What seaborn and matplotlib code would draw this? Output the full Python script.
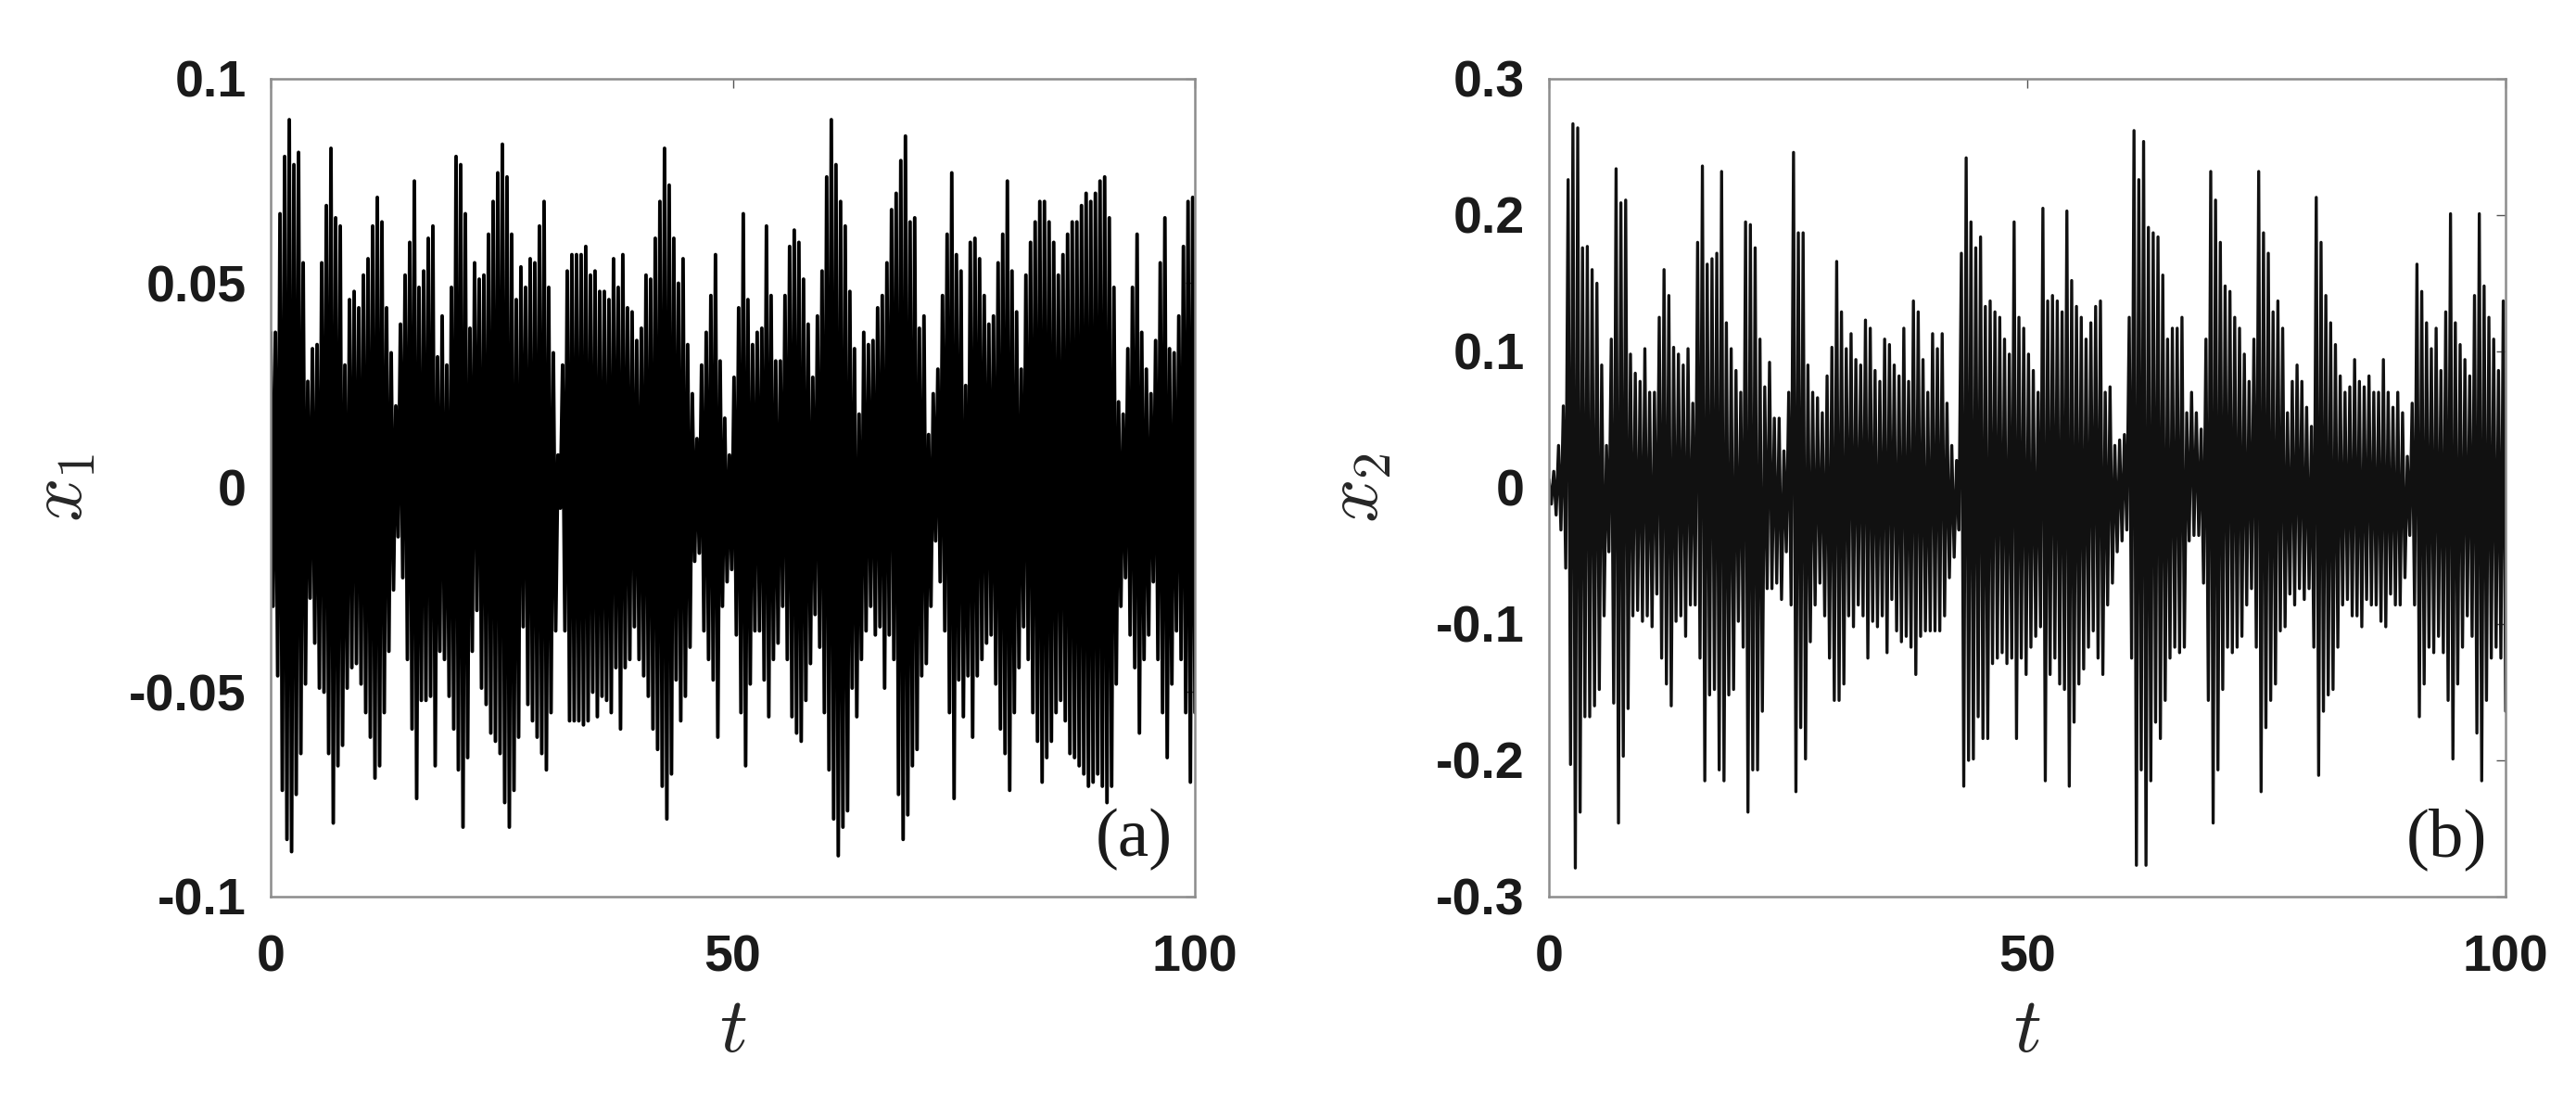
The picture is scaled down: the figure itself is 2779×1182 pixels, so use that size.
import numpy as np
import pandas as pd
import matplotlib
matplotlib.use("Agg")
import matplotlib.pyplot as plt
import seaborn as sns

# ---- data: upper / lower envelope tips, every 0.5 time unit ----
x1_upper = [
    0.038, 0.038, 0.067, 0.081, 0.090, 0.079, 0.082, 0.055, 0.026, 0.034,
    0.035, 0.055, 0.069, 0.083, 0.066, 0.064, 0.030, 0.046, 0.048, 0.044,
    0.052, 0.056, 0.064, 0.071, 0.065, 0.044, 0.033, 0.020, 0.040, 0.052,
    0.060, 0.075, 0.049, 0.053, 0.061, 0.064, 0.032, 0.042, 0.030, 0.049,
    0.081, 0.079, 0.067, 0.039, 0.055, 0.051, 0.052, 0.062, 0.070, 0.077,
    0.084, 0.076, 0.062, 0.046, 0.054, 0.049, 0.056, 0.055, 0.064, 0.070,
    0.049, 0.033, 0.008, 0.030, 0.053, 0.057, 0.057, 0.057,
    0.059, 0.052, 0.053, 0.048, 0.048, 0.046, 0.056, 0.049, 0.057, 0.044,
    0.043, 0.036, 0.039, 0.052, 0.051, 0.061, 0.070, 0.083, 0.074, 0.061,
    0.050, 0.056, 0.035, 0.023, 0.012, 0.030, 0.038, 0.047, 0.057, 0.031,
    0.017, 0.008, 0.027, 0.044, 0.067, 0.046, 0.035, 0.038, 0.039, 0.064,
    0.047, 0.031, 0.031, 0.047, 0.059, 0.063, 0.060, 0.051, 0.040, 0.027,
    0.042, 0.053, 0.076, 0.090, 0.079, 0.070, 0.064, 0.048, 0.034, 0.018,
    0.038, 0.035, 0.036, 0.044, 0.047, 0.055, 0.068,
    0.072, 0.080, 0.086, 0.065, 0.066, 0.039, 0.042, 0.013, 0.023, 0.029,
    0.047, 0.062, 0.077, 0.057, 0.053, 0.025, 0.060, 0.061, 0.056, 0.047,
    0.040, 0.042, 0.055, 0.062, 0.075, 0.053, 0.043, 0.029, 0.052, 0.060,
    0.065, 0.070, 0.070, 0.065, 0.060, 0.052, 0.057, 0.062, 0.065, 0.065,
    0.069, 0.072, 0.070, 0.072, 0.075, 0.076, 0.066, 0.049, 0.021, 0.018,
    0.034, 0.049, 0.062, 0.038, 0.029, 0.023, 0.036, 0.055, 0.066, 0.034,
    0.033, 0.042, 0.059, 0.070, 0.071,
]
x1_lower = [
    -0.029, -0.046, -0.074, -0.086, -0.089, -0.075, -0.065, -0.048, -0.027, -0.038,
    -0.049, -0.050, -0.065, -0.082, -0.068, -0.063, -0.049, -0.044, -0.043, -0.048,
    -0.055, -0.061, -0.071, -0.068, -0.055, -0.040, -0.025, -0.012, -0.022, -0.042,
    -0.059, -0.076, -0.052, -0.052, -0.051, -0.068, -0.040, -0.042, -0.051, -0.059,
    -0.069, -0.083, -0.066, -0.040, -0.030, -0.049, -0.053, -0.060, -0.062, -0.065,
    -0.077, -0.083, -0.074, -0.061, -0.034, -0.053, -0.057, -0.061, -0.065, -0.069,
    -0.055, -0.035, -0.005, -0.035, -0.057, -0.057, -0.057, -0.058,
    -0.057, -0.050, -0.056, -0.051, -0.052, -0.055, -0.044, -0.059, -0.044, -0.042,
    -0.034, -0.042, -0.046, -0.051, -0.059, -0.064, -0.073, -0.081, -0.070, -0.047,
    -0.057, -0.051, -0.039, -0.018, -0.016, -0.035, -0.042, -0.047, -0.061, -0.029,
    -0.023, -0.020, -0.036, -0.055, -0.068, -0.048, -0.035, -0.035, -0.047, -0.056,
    -0.042, -0.038, -0.029, -0.042, -0.056, -0.060, -0.062, -0.052, -0.043, -0.031,
    -0.039, -0.055, -0.069, -0.081, -0.090, -0.083, -0.079, -0.049, -0.056, -0.042,
    -0.035, -0.029, -0.036, -0.034, -0.049, -0.036, -0.042,
    -0.075, -0.086, -0.080, -0.068, -0.064, -0.046, -0.043, -0.029, -0.013, -0.023,
    -0.035, -0.055, -0.076, -0.047, -0.056, -0.046, -0.061, -0.046, -0.042, -0.038,
    -0.036, -0.048, -0.059, -0.065, -0.074, -0.055, -0.044, -0.034, -0.042, -0.055,
    -0.062, -0.072, -0.066, -0.062, -0.055, -0.052, -0.057, -0.065, -0.066, -0.068,
    -0.070, -0.073, -0.072, -0.070, -0.073, -0.077, -0.073, -0.048, -0.029, -0.022,
    -0.036, -0.044, -0.060, -0.042, -0.036, -0.023, -0.042, -0.055, -0.066, -0.048,
    -0.035, -0.042, -0.055, -0.072, -0.055,
]
x2_upper = [
    0.006, 0.012, 0.031, 0.060, 0.226, 0.267, 0.264, 0.176, 0.177, 0.160,
    0.150, 0.090, 0.031, 0.109, 0.234, 0.209, 0.211, 0.098, 0.084, 0.078,
    0.102, 0.070, 0.070, 0.125, 0.160, 0.141, 0.103, 0.098, 0.090, 0.102,
    0.062, 0.180, 0.236, 0.164, 0.168, 0.172, 0.232, 0.121, 0.102, 0.086,
    0.070, 0.195, 0.193, 0.176, 0.109, 0.074, 0.092, 0.051, 0.051, 0.027,
    0.070, 0.246, 0.187, 0.187, 0.090, 0.070, 0.066, 0.055, 0.082, 0.103,
    0.166, 0.129, 0.102, 0.113, 0.094, 0.090, 0.123,
    0.117, 0.086, 0.078, 0.109, 0.105, 0.090, 0.082, 0.117, 0.078, 0.137,
    0.129, 0.094, 0.070, 0.113, 0.102, 0.113, 0.062, 0.031, 0.020, 0.172,
    0.242, 0.195, 0.176, 0.184, 0.133, 0.137, 0.129, 0.125, 0.109, 0.098,
    0.195, 0.125, 0.117, 0.098, 0.086, 0.070, 0.205, 0.137, 0.141, 0.137,
    0.129, 0.203, 0.152, 0.133, 0.125, 0.109, 0.121, 0.133, 0.137, 0.070,
    0.074, 0.031, 0.035, 0.039, 0.125, 0.262, 0.226, 0.254, 0.191, 0.187,
    0.184, 0.156, 0.109, 0.117, 0.117, 0.125,
    0.055, 0.070, 0.055, 0.043, 0.109, 0.232, 0.211, 0.180, 0.148, 0.144,
    0.125, 0.117, 0.098, 0.078, 0.109, 0.232, 0.187, 0.172, 0.129, 0.137,
    0.117, 0.055, 0.078, 0.090, 0.078, 0.059, 0.045, 0.213, 0.180, 0.141,
    0.121, 0.105, 0.082, 0.070, 0.074, 0.094, 0.078, 0.074, 0.082, 0.070,
    0.070, 0.094, 0.070, 0.059, 0.070, 0.055, 0.023, 0.062, 0.164, 0.144,
    0.121, 0.102, 0.117, 0.086, 0.129, 0.201, 0.121, 0.105, 0.094, 0.082,
    0.141, 0.201, 0.148, 0.125, 0.109, 0.086, 0.137,
]
x2_lower = [
    -0.012, -0.020, -0.031, -0.059, -0.203, -0.279, -0.238, -0.168, -0.168, -0.160,
    -0.148, -0.094, -0.047, -0.158, -0.246, -0.197, -0.162, -0.094, -0.090, -0.098,
    -0.094, -0.102, -0.078, -0.125, -0.144, -0.160, -0.098, -0.094, -0.109, -0.086,
    -0.086, -0.125, -0.215, -0.152, -0.148, -0.207, -0.215, -0.152, -0.148, -0.098,
    -0.117, -0.238, -0.207, -0.207, -0.164, -0.074, -0.074, -0.070, -0.082, -0.047,
    -0.086, -0.223, -0.176, -0.199, -0.113, -0.086, -0.070, -0.094, -0.125, -0.156,
    -0.156, -0.144, -0.094, -0.102, -0.086, -0.094, -0.125,
    -0.098, -0.102, -0.094, -0.121, -0.082, -0.105, -0.113, -0.109, -0.117, -0.137,
    -0.109, -0.105, -0.105, -0.105, -0.105, -0.094, -0.066, -0.051, -0.031, -0.219,
    -0.200, -0.199, -0.168, -0.184, -0.184, -0.129, -0.125, -0.121, -0.129, -0.125,
    -0.184, -0.125, -0.137, -0.117, -0.109, -0.102, -0.215, -0.137, -0.125, -0.144,
    -0.148, -0.219, -0.172, -0.144, -0.133, -0.117, -0.105, -0.125, -0.137, -0.086,
    -0.070, -0.047, -0.039, -0.031, -0.125, -0.277, -0.207, -0.277, -0.215, -0.172,
    -0.184, -0.156, -0.125, -0.117, -0.121, -0.117,
    -0.039, -0.035, -0.035, -0.070, -0.156, -0.246, -0.207, -0.148, -0.117, -0.121,
    -0.117, -0.109, -0.086, -0.074, -0.117, -0.223, -0.176, -0.156, -0.144, -0.105,
    -0.102, -0.078, -0.086, -0.074, -0.082, -0.074, -0.117, -0.211, -0.164, -0.152,
    -0.148, -0.117, -0.086, -0.082, -0.094, -0.094, -0.102, -0.082, -0.086, -0.086,
    -0.098, -0.102, -0.078, -0.086, -0.086, -0.066, -0.035, -0.086, -0.168, -0.144,
    -0.117, -0.121, -0.109, -0.121, -0.156, -0.199, -0.144, -0.117, -0.094, -0.109,
    -0.180, -0.215, -0.156, -0.125, -0.117, -0.125, -0.164,
]

t_ticks = [0, 50, 100]
t_labels = ["0", "50", "100"]
a_ticks = [-0.1, -0.05, 0, 0.05, 0.1]
a_labels = ["-0.1", "-0.05", "0", "0.05", "0.1"]
b_ticks = [-0.3, -0.2, -0.1, 0, 0.1, 0.2, 0.3]
b_labels = ["-0.3", "-0.2", "-0.1", "0", "0.1", "0.2", "0.3"]

# ---- style ----
sns.set_theme(style="white")
plt.rcParams["font.family"] = ["Liberation Sans", "DejaVu Sans"]
plt.rcParams["font.weight"] = "bold"
plt.rcParams["mathtext.fontset"] = "cm"

fig = plt.figure(figsize=(27.79, 11.82), dpi=100)
ax_a = fig.add_axes([0.1051, 0.1819, 0.3588, 0.7462])
ax_b = fig.add_axes([0.6013, 0.1819, 0.3714, 0.7462])


def zigzag(up, lo):
    n = min(len(up), len(lo))
    y = np.empty(2 * n)
    y[0::2] = up[:n]
    y[1::2] = lo[:n]
    t = np.linspace(0, 100, 2 * n)
    return pd.DataFrame({"t": t, "x": y})


panels = [
    (ax_a, x1_upper, x1_lower, (-0.1, 0.1), a_ticks, a_labels, r"$x_1$", "(a)",
     2.8, "black", -0.226, 0.976),
    (ax_b, x2_upper, x2_lower, (-0.3, 0.3), b_ticks, b_labels, r"$x_2$", "(b)",
     2.4, "#111111", -0.200, 0.981),
]

for ax, up, lo, ylim, yt, yl, ylab, tag, lw, col, ylx, tagx in panels:
    df = zigzag(up, lo)
    sns.lineplot(data=df, x="t", y="x", ax=ax, sort=False, estimator=None,
                 color=col, linewidth=lw)
    ax.set_xlim(0, 100)
    ax.set_ylim(*ylim)
    ax.set_xticks(t_ticks)
    ax.set_xticklabels(t_labels)
    ax.set_yticks(yt)
    ax.set_yticklabels(yl)
    ax.tick_params(direction="in", length=7, width=1.0, color="#555555",
                   top=True, right=True, labelsize=40, labelcolor="#1a1a1a")
    ax.tick_params(axis="x", pad=29)
    ax.tick_params(axis="y", pad=19)
    for lab in ax.get_xticklabels() + ax.get_yticklabels():
        lab.set_fontweight("bold")
    for sp in ax.spines.values():
        sp.set_visible(True)
        sp.set_color("#8c8c8c")
        sp.set_linewidth(1.8)
    ax.set_xlabel(r"$t$", fontsize=60)
    ax.xaxis.set_label_coords(0.5, -0.164)
    ax.xaxis.label.set_va("center")
    ax.set_ylabel(ylab, fontsize=60)
    ax.yaxis.set_label_coords(ylx, 0.5)
    ax.yaxis.label.set_va("center")
    ax.text(tagx, 0.050, tag, transform=ax.transAxes, ha="right", va="baseline",
            fontsize=54, family="Liberation Serif", fontweight="normal", color="#1a1a1a")

fig.savefig("out.png", dpi=100, facecolor="white")
